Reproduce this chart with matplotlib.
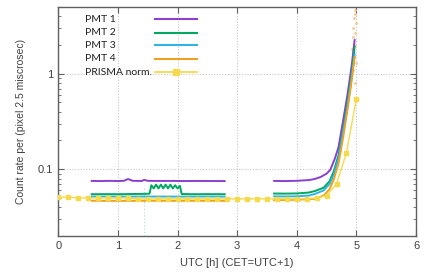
import numpy as np
import matplotlib
matplotlib.use("Agg")
import matplotlib.pyplot as plt
from matplotlib.ticker import LogLocator, NullFormatter, FixedLocator, FixedFormatter

plt.rcParams['font.family'] = ['Liberation Sans', 'DejaVu Sans']

nan = np.nan

# PMT 1
pmt1_x = [0.56, 0.7, 0.85, 1.0, 1.1, 1.17, 1.25, 1.4, 1.44, 1.5, 1.7, 1.9, 2.1, 2.3, 2.5, 2.79,
          nan,
          3.62, 3.8, 4.0, 4.2, 4.3, 4.4, 4.5, 4.56, 4.64, 4.7, 4.78, 4.85, 4.92, 4.97]
pmt1_y = [0.0755, 0.0752, 0.0756, 0.0753, 0.0757, 0.079, 0.0756, 0.0754, 0.0775, 0.0756, 0.0754, 0.0755, 0.0752, 0.0754, 0.0753, 0.0752,
          nan,
          0.0755, 0.0752, 0.0757, 0.077, 0.079, 0.083, 0.090, 0.098, 0.13, 0.17, 0.33, 0.6, 1.2, 2.25]

# PMT 2 (with the oscillating bump)
pmt2_x = [0.56, 0.8, 1.0, 1.2, 1.44, 1.53, 1.56, 1.6, 1.64, 1.68, 1.72, 1.76, 1.8, 1.84, 1.88, 1.92, 1.96, 2.0, 2.04, 2.07,
          2.3, 2.5, 2.79,
          nan,
          3.62, 3.8, 4.0, 4.2, 4.3, 4.45, 4.55, 4.62, 4.7, 4.78, 4.85, 4.92, 4.97]
pmt2_y = [0.0548, 0.0549, 0.0548, 0.0550, 0.0552, 0.0555, 0.068, 0.063, 0.069, 0.063, 0.069, 0.063, 0.069, 0.063, 0.069, 0.063, 0.068, 0.063, 0.067, 0.055,
          0.0548, 0.0549, 0.0548,
          nan,
          0.0557, 0.0556, 0.0558, 0.057, 0.059, 0.064, 0.075, 0.095, 0.14, 0.27, 0.5, 1.0, 1.9]

# PMT 3
pmt3_x = [0.56, 1.0, 1.5, 2.0, 2.5, 2.79,
          nan,
          3.62, 3.8, 4.0, 4.2, 4.3, 4.45, 4.55, 4.62, 4.7, 4.78, 4.85, 4.92, 4.97]
pmt3_y = [0.0518, 0.0517, 0.0518, 0.0517, 0.0518, 0.0517,
          nan,
          0.0520, 0.0519, 0.0521, 0.053, 0.055, 0.060, 0.070, 0.088, 0.13, 0.25, 0.45, 0.9, 1.6]

# PMT 4
pmt4_x = [0.56, 1.0, 1.5, 2.0, 2.5, 2.79,
          nan,
          3.62, 3.8, 4.0, 4.2, 4.3, 4.45, 4.55, 4.62, 4.7, 4.78, 4.85, 4.92, 4.97]
pmt4_y = [0.0468, 0.0467, 0.0468, 0.0467, 0.0468, 0.0467,
          nan,
          0.0475, 0.0477, 0.0480, 0.0485, 0.049, 0.053, 0.062, 0.078, 0.115, 0.22, 0.42, 0.85, 1.5]

# PRISMA normalised, one point every 10 min
prisma_x = [k / 6 for k in range(31)]
prisma_y = [0.051, 0.051, 0.050, 0.050, 0.050, 0.050, 0.050, 0.050, 0.049, 0.049,
            0.049, 0.049, 0.049, 0.049, 0.049, 0.049, 0.049, 0.049, 0.049, 0.049,
            0.049, 0.049, 0.049, 0.049, 0.049, 0.049, 0.050, 0.053, 0.070, 0.149, 0.55]

# faint scattered points near the end
scat_x = [4.97, 4.98, 4.96, 4.99, 4.95, 4.97, 4.94, 4.98, 4.93, 4.96, 4.99, 4.95, 4.97]
scat_y = [4.6, 4.2, 3.8, 3.4, 3.0, 2.7, 2.4, 2.0, 1.8, 1.5, 1.3, 1.1, 0.8]

series = [
    ("PMT 1", pmt1_x, pmt1_y, "#8a3fd0"),
    ("PMT 2", pmt2_x, pmt2_y, "#00a860"),
    ("PMT 3", pmt3_x, pmt3_y, "#30b4e6"),
    ("PMT 4", pmt4_x, pmt4_y, "#eea020"),
]
prisma_color = "#f4da4c"

fig = plt.figure(figsize=(4.32, 2.73), dpi=100)
ax = fig.add_axes([0.135, 0.1355, 0.828, 0.839])

ax.vlines(1.44, 0.02, 0.066, colors="#a8d8d8", linestyles=(0, (1, 2)), lw=0.8, zorder=1)

for name, xs, ys, c in series:
    ax.plot(xs, ys, color=c, lw=1.4, zorder=3)
ax.plot(prisma_x, prisma_y, color=prisma_color, lw=1.0, marker="s", ms=3.5, zorder=4)
ax.plot(scat_x, scat_y, ls="none", marker=".", ms=2, color="#f6c890", zorder=2)

ax.set_yscale("log")
ax.set_xlim(0, 6)
ax.set_ylim(0.02, 5)
ax.yaxis.set_major_locator(FixedLocator([0.1, 1]))
ax.yaxis.set_major_formatter(FixedFormatter(["0.1", "1"]))
ax.yaxis.set_minor_locator(LogLocator(base=10, subs=np.arange(2, 10)))
ax.yaxis.set_minor_formatter(NullFormatter())
ax.set_xticks(range(7))

ax.grid(True, which="major", color="#c8c8c8", ls=(0, (1, 1.5)), lw=0.8)
ax.tick_params(which="both", direction="in", top=True, right=True,
               labelsize=8, labelcolor="#404040", color="#606060")
ax.tick_params(which="major", length=4)
ax.tick_params(which="minor", length=2.5)
for s in ax.spines.values():
    s.set_color("#606060")
    s.set_linewidth(1.0)

ax.set_xlabel("UTC [h] (CET=UTC+1)", fontsize=8, color="#404040", labelpad=5)
ax.set_ylabel("Count rate per (pixel 2.5 miscrosec)", fontsize=7.5, color="#404040", labelpad=9)

# legend, gnuplot style: text left, sample on the right
leg_font = ['Lato', 'DejaVu Sans']
leg_y = [0.946, 0.888, 0.832, 0.773, 0.716]
for (name, xs, ys, c), yy in zip(series, leg_y):
    ax.text(0.075, yy, name, transform=ax.transAxes, fontsize=7.5, va="center", color="#202020", family=leg_font)
    ax.plot([0.27, 0.388], [yy, yy], transform=ax.transAxes, color=c, lw=1.5, clip_on=False)
ax.text(0.075, leg_y[4], "PRISMA norm.", transform=ax.transAxes, fontsize=7.5, va="center", color="#202020", family=leg_font)
ax.plot([0.27, 0.329, 0.388], [leg_y[4]] * 3, transform=ax.transAxes, color=prisma_color, lw=1.3,
        marker="s", markevery=[1], ms=3.8, clip_on=False)

fig.savefig("out.png", dpi=100)
